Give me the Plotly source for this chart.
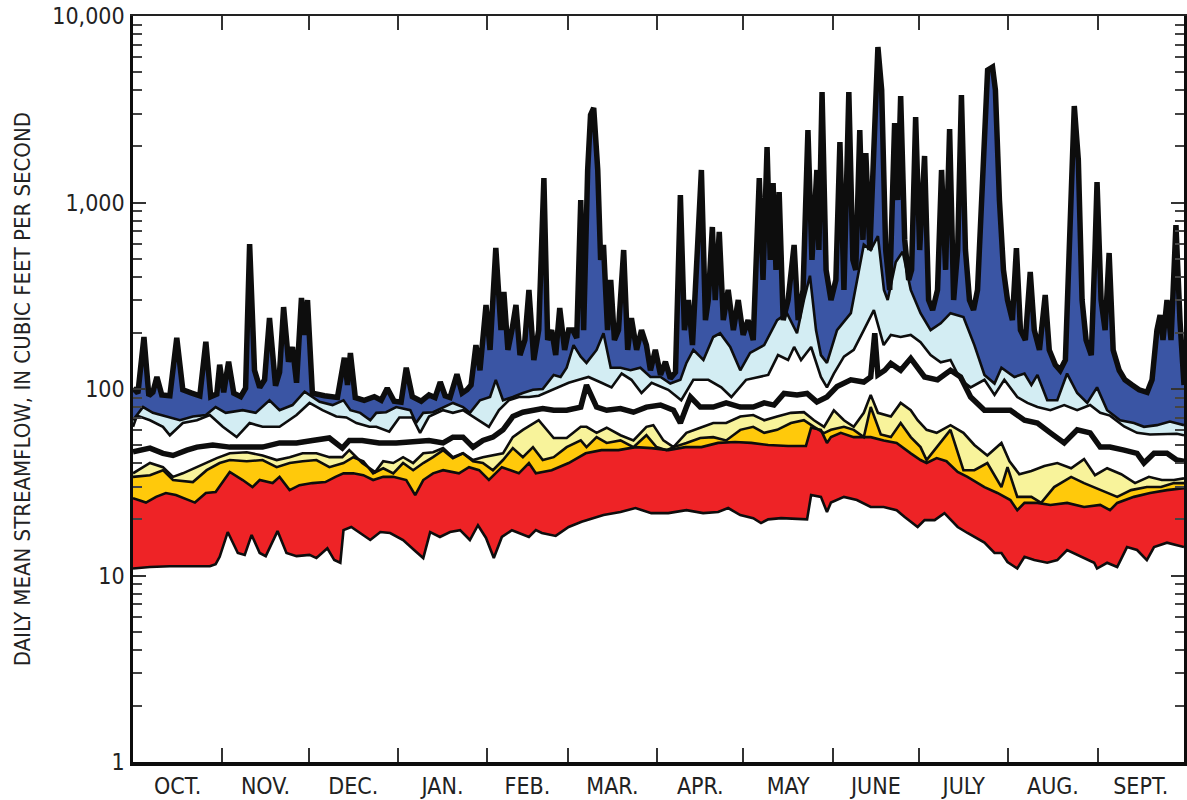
import plotly.graph_objects as go

# ---------------- data (day of water year, daily mean streamflow in cfs) ----------------
month_labels = ["OCT.", "NOV.", "DEC.", "JAN.", "FEB.", "MAR.", "APR.", "MAY", "JUNE", "JULY", "AUG.", "SEPT."]
month_starts = [0, 31, 61, 92, 123, 151, 182, 212, 243, 273, 304, 335, 365]

ytick_vals = [1, 10, 100, 1000, 10000]
ytick_text = ["1", "10", "100", "1,000", "10,000"]

min_days = [0, 5.9, 12.8, 26.7, 28.7, 30.1, 32.9, 36.4, 38.8, 41.2, 44, 46.1, 50.2, 53.3, 56.8, 61.3, 63.7, 67.5,
            69.9, 72, 73.1, 75.8, 82.4, 85.9, 89.3, 93.8, 98.3, 100.8, 103.2, 106.6, 110.1, 113.6, 117, 119.8, 122.6,
            125.3, 128.1, 131.6, 137.5, 139.9, 142, 146.8, 151.3, 155.8, 163.4, 169.3, 174.5, 180, 185.9, 192.2, 198,
            203.2, 206.7, 210.9, 215.4, 218.1, 220.6, 225.1, 234.1, 235.5, 238.9, 241, 242.4, 246.9, 251.4, 256.2,
            260.7, 265.2, 268, 272.5, 274.9, 278.4, 281.8, 286.4, 289.8, 295.7, 299.2, 301.6, 303.7, 307.1, 309.6, 313,
            317.5, 321, 324.4, 329.3, 333.8, 334.8, 338.3, 341.8, 345.2, 348.7, 352.1, 354.6, 359.1, 365]
min_vals = [10.9, 11.1, 11.2, 11.2, 11.5, 12.6, 17.1, 13.2, 12.9, 16.5, 13.2, 12.7, 17.3, 13.2, 12.7, 12.9, 12.4, 14.0,
            12.1, 11.7, 17.5, 18.2, 15.5, 17.1, 16.9, 15.5, 13.4, 12.4, 17.1, 16.1, 17.1, 17.5, 15.5, 18.6, 15.9, 12.4,
            16.1, 17.5, 16.1, 17.5, 16.9, 16.3, 18.2, 19.4, 21.1, 21.9, 23.0, 21.6, 21.6, 22.4, 21.6, 21.9, 23.0, 21.1,
            20.3, 19.1, 20.0, 20.3, 20.0, 27.0, 26.4, 21.9, 24.6, 26.4, 25.4, 23.3, 23.3, 22.4, 20.6, 18.2, 19.8, 19.8,
            21.6, 18.2, 16.9, 15.0, 13.2, 13.2, 11.8, 10.9, 12.6, 12.1, 11.7, 12.1, 13.7, 12.6, 11.7, 10.9, 11.7, 11.1,
            14.2, 13.7, 12.1, 14.2, 15.0, 14.2]

p10_days = [0, 4.5, 8, 11.4, 14.9, 21.5, 25.3, 28.7, 33.6, 38.1, 41.5, 44, 48.5, 50.9, 54.4, 57.8, 62.3, 66.8, 70.3,
            73.1, 76.5, 80, 83.4, 86.9, 90.4, 94.9, 98, 100.8, 104.2, 107.7, 113.2, 116.7, 120.2, 123.6, 128.1, 134,
            137.5, 139.9, 145.4, 151.3, 157.2, 162.7, 168.6, 174.5, 180.1, 185.9, 191.8, 197.4, 203.2, 209.1, 214.7,
            220.6, 227.5, 233.7, 235.5, 238.9, 241, 242.4, 245.8, 250.3, 253.8, 256.2, 260.7, 265.2, 270.1, 273.5,
            275.6, 279.1, 282.5, 286.4, 289.8, 295.7, 300.2, 304.7, 307.1, 309.6, 314.1, 318.6, 324.4, 330.3, 335.9,
            339.3, 341.8, 347.6, 353.2, 359.1, 365]
p10_vals = [26.0, 24.6, 26.4, 27.7, 27.0, 24.6, 27.7, 28.0, 35.9, 32.5, 29.8, 32.5, 31.3, 33.8, 28.7, 30.5, 31.3, 31.7,
            33.8, 35.3, 35.3, 34.5, 32.5, 33.8, 33.8, 32.5, 27.0, 32.5, 35.3, 36.7, 35.3, 38.1, 36.7, 32.5, 38.1, 35.3,
            40.1, 35.3, 36.7, 40.1, 45.2, 47.0, 47.0, 48.8, 48.2, 47.0, 48.8, 48.8, 51.4, 52.0, 51.4, 50.1, 49.5, 49.5,
            62.0, 60.4, 51.4, 55.2, 58.2, 55.2, 55.2, 55.2, 53.0, 51.4, 45.2, 41.6, 40.1, 42.6, 41.0, 35.9, 33.8, 29.8,
            27.7, 25.4, 22.4, 24.5, 24.5, 23.9, 24.5, 23.3, 23.9, 22.4, 24.5, 26.4, 27.7, 28.7, 29.4]

p25_days = [0, 5.9, 10.4, 13.9, 20.8, 25.6, 30.1, 33.6, 39.5, 45, 49.9, 54.4, 58.9, 63.7, 68.2, 73.1, 76.5, 80, 83.4,
            86.9, 90.4, 93.8, 97.3, 100.8, 104.2, 107.7, 111.1, 114.6, 118.1, 121.5, 125, 128.5, 131.9, 135.4, 138.9,
            142.3, 146.1, 150.6, 155.5, 157.5, 161, 164.5, 169.3, 173.8, 178.3, 181.8, 185.3, 187.7, 192.2, 197, 201.5,
            206, 210.9, 215.4, 219.2, 223.7, 228.5, 233, 236.5, 240, 242.4, 246.9, 250.3, 253.8, 256.2, 259.7, 263.2,
            266.6, 270.1, 273.5, 275.6, 279.1, 283.9, 288.4, 292.2, 296.7, 301.6, 303.7, 307.1, 312, 315.4, 319.9,
            325.8, 330.3, 336.2, 341.8, 346.6, 352.1, 357, 361.5, 365]
p25_vals = [33.8, 34.5, 36.7, 32.5, 31.7, 36.7, 40.1, 41.6, 41.0, 41.6, 38.1, 40.1, 41.0, 41.6, 38.1, 40.1, 43.1, 41.0,
            35.3, 37.6, 35.3, 40.1, 36.7, 40.1, 43.1, 47.0, 42.6, 45.2, 41.0, 40.1, 36.7, 41.6, 48.2, 43.1, 48.8, 41.6,
            43.1, 48.8, 53.0, 48.8, 55.2, 51.4, 53.0, 48.8, 56.5, 48.8, 47.0, 48.8, 51.4, 54.6, 55.2, 53.0, 60.4, 62.7,
            58.2, 60.4, 65.7, 68.0, 62.7, 58.0, 60.4, 62.7, 60.4, 55.2, 80.0, 57.0, 55.2, 65.7, 55.2, 48.8, 41.6, 48.8,
            60.4, 36.7, 36.7, 40.1, 29.8, 38.1, 26.4, 26.4, 24.5, 29.8, 33.8, 31.3, 28.7, 26.4, 28.7, 29.8, 29.8, 31.3,
            31.3]

p40_days = [0, 5.9, 10.4, 13.9, 17.3, 22.2, 29.1, 33.6, 39.5, 45, 49.9, 54.4, 58.9, 63.7, 68.2, 72.7, 75.1, 79.6, 84.1,
            86.9, 90.4, 93.8, 97.3, 100.8, 104.2, 107.7, 111.1, 114.6, 118.1, 121.5, 125, 128.5, 131.9, 135.4, 140.9,
            146.1, 150.6, 155.5, 157.5, 161, 164.5, 169.3, 173.8, 178.3, 180.7, 184.2, 187.7, 192.2, 197, 201.5, 206,
            210.9, 215.4, 219.2, 223.7, 228.5, 233, 236.5, 240, 243.4, 246.9, 250.3, 253.8, 256.2, 258.7, 263.2, 266.6,
            270.1, 272.5, 275.6, 279.1, 283.9, 288.4, 292.2, 296.7, 301.6, 304.4, 307.8, 312, 316.5, 321, 325.8, 330.3,
            334.1, 338.3, 343.2, 348, 352.8, 357.3, 361.5, 365]
p40_vals = [35.3, 40.1, 38.1, 33.8, 35.3, 38.1, 42.6, 45.2, 45.8, 44.0, 41.6, 43.1, 45.2, 45.2, 43.1, 43.1, 47.0, 40.1,
            35.9, 41.0, 40.1, 43.1, 40.1, 45.2, 45.8, 48.2, 43.1, 45.2, 41.6, 43.1, 44.0, 45.2, 55.2, 60.4, 68.0, 54.6,
            54.6, 62.7, 62.7, 58.2, 62.0, 56.5, 53.0, 62.7, 64.0, 53.0, 48.8, 58.2, 62.0, 65.7, 65.7, 71.2, 72.5, 68.0,
            71.2, 74.5, 75.1, 68.0, 62.7, 76.9, 68.0, 62.7, 74.5, 93.0, 74.5, 71.2, 84.2, 76.9, 68.0, 60.4, 58.2, 64.0,
            58.2, 50.1, 44.0, 51.4, 41.0, 34.9, 36.3, 38.6, 40.1, 37.6, 42.1, 34.5, 37.6, 34.9, 31.3, 33.8, 32.5, 32.5,
            33.2]

med_days = [0, 5.9, 10.4, 13.9, 18.7, 22.2, 27.7, 33.6, 39.5, 45, 50.9, 56.8, 62.3, 68.2, 72.7, 75.1, 79.6, 85.5, 91.4,
            97, 102.8, 107.7, 111.1, 114.6, 118.1, 121.5, 125, 128.5, 131.9, 135.4, 138.9, 142.3, 146.1, 150.6, 155.5,
            157.5, 161, 164.5, 169.3, 173.8, 178.3, 183.2, 187.7, 190.1, 192.2, 193.6, 197, 201.5, 206, 210.9, 215.4,
            219.2, 222.6, 226.1, 230.6, 234.1, 237.5, 241, 244.5, 249.3, 253.8, 256.2, 257.6, 258.7, 261.1, 263.2,
            266.6, 270.1, 274.9, 279.4, 283.9, 287.4, 290.9, 295.7, 300.2, 304.7, 309.6, 314.1, 318.6, 323.4, 327.9,
            332.4, 335.9, 339.3, 344.2, 348.7, 351.1, 354.6, 359.1, 362.5, 365]
med_vals = [46.0, 48.2, 45.2, 44.0, 47.0, 48.8, 50.1, 48.8, 48.8, 48.8, 51.4, 51.4, 53.0, 54.6, 48.2, 53.0, 53.0, 51.4,
            51.4, 52.0, 53.0, 51.4, 55.2, 55.2, 48.8, 53.0, 55.2, 60.4, 71.2, 75.1, 76.9, 78.6, 76.9, 76.9, 80.0, 105,
            80.0, 76.9, 78.6, 75.1, 80.0, 82.0, 76.9, 65.7, 80.0, 90.6, 80.0, 80.0, 84.2, 80.0, 80.0, 84.2, 82.0, 94.7,
            93.0, 94.7, 85.3, 90.6, 103, 112, 109, 116, 199, 119, 126, 137, 126, 146, 116, 112, 126, 116, 90.6, 76.9,
            76.9, 76.9, 68.0, 65.7, 58.2, 51.4, 60.4, 58.2, 48.8, 48.8, 47.0, 45.2, 40.1, 45.2, 45.2, 41.6, 41.0]

p70_days = [0, 1.4, 5.9, 10.4, 12.8, 17.3, 22.2, 26.7, 31.2, 36, 40.5, 45, 50.9, 56.8, 61.3, 65.8, 70.6, 74.1, 77.6,
            82.1, 84.5, 89, 92.5, 97, 99.7, 102.8, 107.7, 111.1, 114.6, 118.1, 120.2, 123.6, 127.1, 130.5, 134, 137.5,
            140.9, 145.4, 151.3, 154.8, 158.2, 162.7, 166.2, 169.7, 173.1, 176.6, 180.1, 185.9, 190.4, 194.6, 199.8,
            204.3, 207.8, 212.9, 217.1, 220.6, 224, 227.5, 229.6, 232, 235.5, 238.9, 241, 243.4, 246.9, 250.3, 253.8,
            257.3, 260.7, 263.2, 266.6, 270.1, 273.5, 277, 280.5, 283.9, 287.4, 290.9, 295.7, 299.2, 302.6, 307.1,
            310.6, 314.1, 318.6, 323.4, 327.9, 332.4, 335.9, 339.3, 344.2, 348.7, 353.2, 358, 362.5, 365]
p70_vals = [62.7, 72, 68, 62.7, 56.5, 65.7, 68, 72.5, 62.7, 55.2, 65.7, 62.7, 62.7, 72.5, 84.2, 77, 71.2, 70.4, 65.7,
            62.7, 62.7, 59.1, 70.4, 70.4, 58.2, 71.2, 77, 74.5, 77, 71.2, 68, 62.7, 77, 87, 90.6, 90.6, 92, 99, 108,
            112, 116, 108, 102, 121, 112, 95.2, 108, 99, 87, 112, 112, 102, 90.6, 112, 116, 119, 152, 143, 168, 143,
            168, 116, 102, 121, 149, 162, 207, 265, 172, 195, 190, 195, 178, 152, 139, 143, 112, 102, 112, 93, 112,
            90.6, 84.2, 80, 77, 82, 77, 82, 74.5, 72, 63, 58.2, 57, 57.5, 57.5, 56.5]

p90_days = [0, 3.5, 6.9, 11.4, 16.3, 20.8, 25.3, 28.7, 32.2, 38.1, 42.6, 47.4, 50.9, 55.4, 59.6, 64.8, 69.3, 73.1, 75.5,
            78.9, 82.4, 84.5, 87.9, 91.4, 96.3, 98.3, 100.8, 104.2, 107.7, 111.1, 114.6, 117, 120.5, 124, 126, 128.5,
            131.9, 135.4, 138.9, 142.3, 146.1, 148.5, 150.6, 153, 155.5, 157.5, 161, 163.4, 165.9, 169.3, 172.8, 176.2,
            179.7, 183.2, 186.6, 190.1, 192.2, 194.6, 198.1, 201.5, 203.9, 207.4, 210.9, 214.3, 219.2, 223.7, 227.1,
            230.6, 233, 235.1, 237.2, 238.9, 241, 244.5, 249.3, 251.4, 253.8, 256.2, 258.7, 260.8, 262.1, 264.9, 267.3,
            270.1, 273.5, 277, 280.5, 283.9, 288.4, 292.2, 295.7, 299.2, 301.6, 306.1, 309.6, 312, 314.1, 317.5, 321,
            324.4, 327.9, 331.4, 334.8, 338.3, 342.8, 347.6, 351.1, 355.6, 360.1, 365]
p90_vals = [68, 80, 74.5, 71.2, 68, 71.2, 72.5, 80, 74.5, 77, 74.5, 87, 77, 82, 96.7, 85.3, 82, 87, 77, 74.5, 68, 74.5,
            75.1, 80, 77, 65.7, 74.5, 75.1, 80, 84.2, 80, 74.5, 87, 90.6, 112, 87, 90.6, 95.2, 99, 100, 119, 116, 130,
            172, 149, 138, 162, 199, 130, 130, 126, 130, 116, 116, 107, 112, 138, 162, 143, 190, 199, 168, 126, 156,
            172, 234, 255, 199, 300, 405, 207, 152, 138, 207, 255, 384, 594, 556, 660, 340, 300, 480, 545, 340, 255,
            207, 225, 255, 243, 172, 119, 107, 130, 116, 121, 105, 119, 87, 87, 121, 95.2, 84.2, 102, 77, 68, 65.7,
            62.7, 64, 66.9, 64]

max_days = [0, 1.7, 3.8, 5.5, 6.9, 8.3, 10.0, 12.8, 15.2, 17.3, 20.4, 23.2, 25.3, 27.0, 29.1, 30.1, 31.5, 33.2, 35.0,
            37.4, 39.1, 40.5, 42.2, 44.0, 45.7, 47.4, 49.5, 50.9, 52.3, 54.0, 55.4, 56.8, 58.5, 59.6, 60.6, 62.3, 66.5,
            71.0, 73.4, 74.5, 75.5, 77.2, 80.3, 83.8, 86.2, 88.3, 90.7, 93.1, 94.9, 97.0, 100.1, 102.8, 104.9, 106.7,
            108.4, 110.1, 112.5, 114.3, 116.0, 117.4, 119.1, 120.5, 122.6, 124.0, 126.0, 127.8, 128.8, 130.2, 131.6,
            133.0, 134.4, 136.1, 137.5, 139.2, 140.9, 142.7, 144.0, 145.4, 146.8, 148.2, 149.9, 151.3, 152.7, 154.1,
            155.5, 156.5, 157.9, 158.9, 160.0, 161.4, 162.4, 163.4, 164.8, 165.9, 167.2, 168.6, 170.4, 171.8, 173.1,
            174.9, 176.6, 178.3, 179.7, 181.4, 183.2, 184.9, 186.6, 188.4, 190.1, 191.5, 192.9, 194.3, 196.0, 197.4,
            198.8, 199.8, 201.2, 202.2, 203.6, 205.0, 206.7, 208.5, 210.2, 211.9, 213.6, 215.4, 217.5, 218.8, 220.2,
            221.3, 222.3, 223.3, 224.4, 225.8, 227.5, 229.6, 231.0, 232.7, 234.4, 235.8, 237.5, 238.2, 239.3, 240.7,
            242.4, 244.1, 245.5, 246.9, 248.6, 250.0, 251.0, 252.4, 253.5, 254.5, 255.9, 257.3, 258.7, 260.0, 261.4,
            262.8, 264.5, 265.6, 266.6, 268.0, 269.4, 270.4, 271.8, 273.2, 274.9, 276.3, 277.7, 279.4, 280.8, 282.2,
            283.6, 285.0, 286.4, 287.7, 289.1, 290.5, 291.9, 293.3, 295.4, 296.8, 298.5, 299.5, 300.9, 302.3, 303.7,
            305.4, 306.8, 308.2, 309.9, 311.6, 313.0, 314.8, 316.8, 318.2, 320.3, 322.0, 323.8, 325.5, 326.9, 328.3,
            329.6, 331.0, 332.8, 334.1, 334.8, 336.2, 337.6, 339.0, 340.4, 342.5, 344.5, 347.0, 349.4, 352.2, 353.9,
            355.6, 356.7, 357.7, 359.1, 360.5, 362.2, 363.6, 365.0]
max_vals = [101, 95, 190, 92, 96, 116, 93, 92, 188, 99, 95, 92, 179, 91, 94, 135, 96, 140, 95, 91, 101, 599, 126, 102,
            112, 240, 104, 123, 275, 140, 168, 108, 308, 195, 300, 95, 92, 90, 147, 105, 156, 90, 87, 91, 87, 101, 86,
            85, 130, 91, 86, 93, 90, 109, 92, 90, 120, 95, 99, 105, 172, 126, 282, 162, 570, 207, 331, 162, 207, 282,
            152, 183, 340, 143, 207, 1353, 183, 207, 152, 272, 162, 207, 207, 188, 1031, 207, 1494, 2946, 3211, 1494,
            492, 592, 207, 384, 183, 207, 556, 162, 240, 162, 207, 172, 126, 162, 119, 140, 114, 123, 1097, 207, 300,
            172, 556, 1494, 234, 300, 739, 300, 695, 234, 340, 207, 300, 195, 234, 183, 1353, 384, 1984, 492, 1272,
            435, 1138, 234, 300, 592, 234, 340, 2448, 492, 1494, 556, 3913, 435, 300, 384, 2110, 340, 3913, 492, 435,
            2448, 630, 1842, 556, 1912, 6820, 4010, 556, 340, 2669, 1031, 3724, 630, 384, 435, 2873, 556, 1776, 300,
            265, 340, 1494, 435, 2478, 300, 556, 3771, 556, 300, 265, 340, 1912, 5135, 5330, 4010, 1031, 435, 300, 234,
            570, 207, 183, 424, 207, 162, 319, 162, 135, 126, 143, 1031, 3292, 1690, 300, 183, 152, 556, 1288, 300,
            207, 536, 162, 126, 112, 105, 99, 96, 112, 207, 249, 183, 300, 183, 757, 234, 105]

# ---------------- styling ----------------
RED = "#EE2326"
GOLD = "#FFC90B"
LYELLOW = "#F8F39B"
LBLUE = "#D3EDF3"
DBLUE = "#3A55A4"
INK = "#0d0d0d"
FONT = "Liberation Sans Narrow, Arial Narrow, DejaVu Sans Condensed, Roboto Condensed, sans-serif"

fig = go.Figure()

# filled bands (no outlines; outlines are drawn on top afterwards)
band_specs = [
    (min_days, min_vals, None, None),
    (p10_days, p10_vals, "tonexty", RED),
    (p25_days, p25_vals, "tonexty", GOLD),
    (p40_days, p40_vals, "tonexty", LYELLOW),
    (p70_days, p70_vals, None, None),
    (p90_days, p90_vals, "tonexty", LBLUE),
    (max_days, max_vals, "tonexty", DBLUE),
]
for d, v, fill, col in band_specs:
    fig.add_trace(go.Scatter(x=d, y=v, mode="lines", line=dict(width=0, color="rgba(0,0,0,0)"),
                             fill=fill if fill else "none", fillcolor=col, hoverinfo="skip", showlegend=False))

# outlines
line_specs = [
    (min_days, min_vals, 2.6),
    (p10_days, p10_vals, 2.6),
    (p25_days, p25_vals, 2.6),
    (p40_days, p40_vals, 2.6),
    (p70_days, p70_vals, 2.6),
    (p90_days, p90_vals, 2.6),
    (med_days, med_vals, 5.5),
    (max_days, max_vals, 5.5),
]
for d, v, w in line_specs:
    fig.add_trace(go.Scatter(x=d, y=v, mode="lines", line=dict(width=w, color=INK),
                             hoverinfo="skip", showlegend=False))

# invisible trace for the top axis
fig.add_trace(go.Scatter(x=[0, 365], y=[1, 1], xaxis="x2", mode="lines",
                         line=dict(width=0), hoverinfo="skip", showlegend=False))

mid_month = [(month_starts[i] + month_starts[i + 1]) / 2 for i in range(12)]
minor_y = [m * 10 ** e for e in range(0, 4) for m in range(2, 10)]

fig.update_layout(
    width=1187, height=800,
    margin=dict(l=133, r=0, t=16, b=38),
    paper_bgcolor="white", plot_bgcolor="white",
    showlegend=False, hovermode=False,
    font=dict(family=FONT, color="#222222", size=22),
    xaxis=dict(range=[0, 365], showgrid=False, zeroline=False,
               showline=True, linewidth=4, linecolor=INK,
               tickmode="array", tickvals=mid_month, ticktext=month_labels, ticks="",
               tickfont=dict(family=FONT, size=23, color="#222222"),
               minor=dict(tickmode="array", tickvals=month_starts[1:-1], ticks="inside",
                          ticklen=14, tickwidth=1.5, tickcolor="#333333", showgrid=False)),
    xaxis2=dict(range=[0, 365], overlaying="x", side="top", anchor="y", showgrid=False, zeroline=False,
                showline=True, linewidth=2, linecolor="#222222",
                tickmode="array", tickvals=month_starts[1:-1], ticks="inside",
                ticklen=14, tickwidth=1.5, tickcolor="#333333", showticklabels=False),
    yaxis=dict(type="log", range=[0, 4], showgrid=False, zeroline=False,
               showline=True, linewidth=2.5, linecolor=INK, mirror="ticks",
               tickmode="array", tickvals=ytick_vals, ticktext=ytick_text,
               ticks="inside", ticklen=13, tickwidth=1.5, tickcolor="#333333",
               ticklabelstandoff=1,
               tickfont=dict(family=FONT, size=23, color="#222222"),
               minor=dict(tickmode="array", tickvals=minor_y, ticks="inside", ticklen=9,
                          tickwidth=1.5, tickcolor="#444444", showgrid=False)),
    annotations=[dict(text="DAILY MEAN STREAMFLOW, IN CUBIC FEET PER SECOND",
                      xref="paper", yref="paper", x=-0.1053, y=0.5,
                      xanchor="center", yanchor="middle", textangle=-90, showarrow=False,
                      font=dict(family=FONT, size=22, color="#222222"))],
)

fig.write_html("out.html")
